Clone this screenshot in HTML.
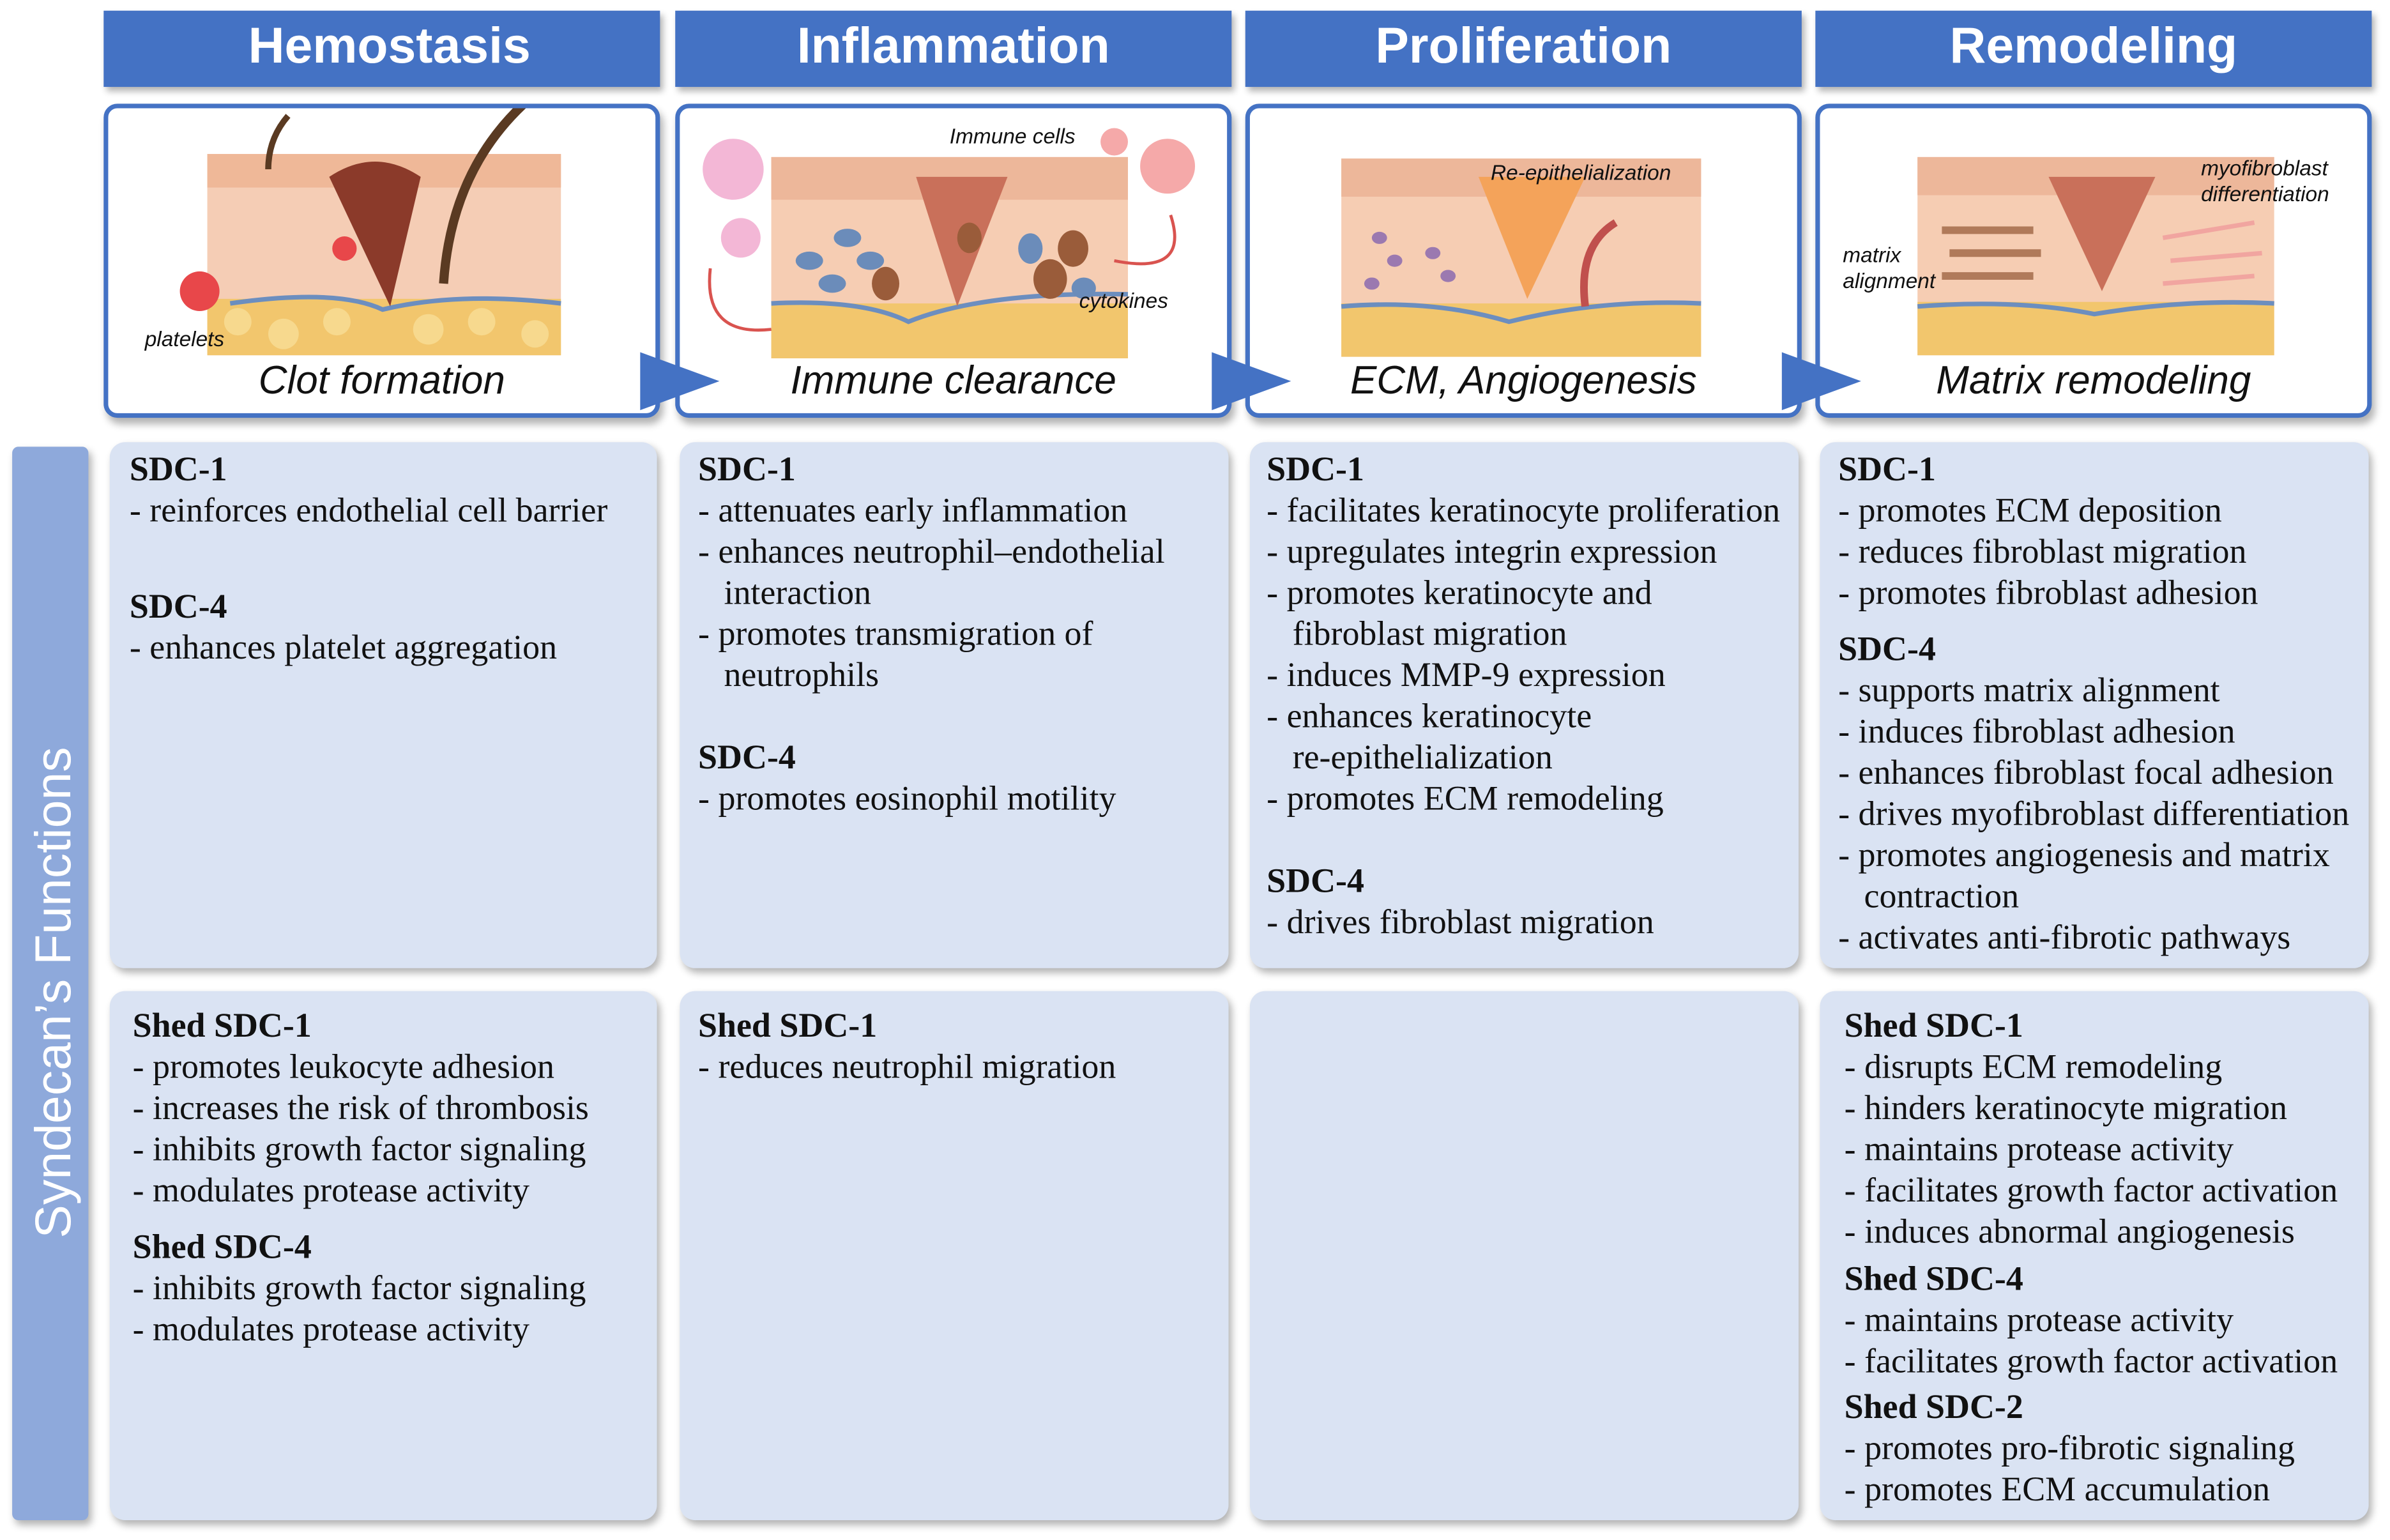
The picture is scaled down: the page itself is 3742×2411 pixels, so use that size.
<!DOCTYPE html>
<html><head><meta charset="utf-8"><style>
html,body{margin:0;padding:0;background:#fff;width:3742px;height:2411px;overflow:hidden}
#s{position:absolute;left:0;top:0;width:1568px;height:1010px;transform:scale(2.3865,2.3871);transform-origin:0 0;font-family:"Liberation Serif",serif}
.h{position:absolute;top:7px;height:50px;background:#4472C4;color:#fff;font:bold 33px "Liberation Sans",sans-serif;text-align:center;line-height:46px;box-shadow:2px 3px 4px rgba(0,0,0,.3)}
.p{position:absolute;top:68px;height:200px;border:3px solid #4472C4;border-radius:9px;background:#fff;box-shadow:2px 4px 5px rgba(0,0,0,.3);overflow:hidden}
.cap{position:absolute;left:0;right:0;top:163px;text-align:center;font:italic 26px "Liberation Sans",sans-serif;color:#111}
.c{position:absolute;background:#DAE3F3;border-radius:10px;box-shadow:2px 3px 5px rgba(0,0,0,.3)}
.t{position:absolute;font-size:22.6px;line-height:27px;color:#111;white-space:pre}
.t b{font-weight:bold}
.arr{position:absolute;width:0;height:0;border-top:19px solid transparent;border-bottom:19px solid transparent;border-left:52px solid #4472C4}
.sm{position:absolute;font:italic 14px "Liberation Sans",sans-serif;color:#111}
</style></head><body><div id="s">
<div class="h" style="left:68px;width:365px;padding-left:10px;box-sizing:border-box">Hemostasis</div>
<div class="h" style="left:443px;width:365px">Inflammation</div>
<div class="h" style="left:817px;width:365px">Proliferation</div>
<div class="h" style="left:1191px;width:365px">Remodeling</div>

<div class="p" style="left:68px;width:359px">
<svg width="359" height="200" style="position:absolute;left:0;top:0">
<rect x="65" y="30" width="232" height="132" fill="#F5CDB5"/>
<rect x="65" y="30" width="232" height="22" fill="#EFB898"/>
<rect x="65" y="125" width="232" height="37" fill="#F2C66D"/>
<g fill="#F7D98E"><circle cx="85" cy="140" r="9"/><circle cx="115" cy="148" r="10"/><circle cx="150" cy="140" r="9"/><circle cx="210" cy="145" r="10"/><circle cx="245" cy="140" r="9"/><circle cx="280" cy="148" r="9"/></g>
<path d="M80 128 Q150 118 180 132 Q230 120 297 128" stroke="#6C8EBF" stroke-width="3" fill="none"/>
<path d="M145 45 Q175 25 205 45 L185 130 Z" fill="#8B3A2A"/>
<path d="M220 115 Q225 40 275 -5" stroke="#5A3A22" stroke-width="6" fill="none"/>
<path d="M105 40 Q105 20 118 5" stroke="#5A3A22" stroke-width="4" fill="none"/>
<circle cx="60" cy="120" r="13" fill="#E8474A"/><circle cx="155" cy="92" r="8" fill="#E8474A"/>
</svg>
<div class="sm" style="left:24px;top:143px">platelets</div>
<div class="cap">Clot formation</div></div>

<div class="p" style="left:443px;width:359px">
<svg width="359" height="200" style="position:absolute;left:0;top:0">
<rect x="60" y="32" width="234" height="132" fill="#F6CDB3"/>
<rect x="60" y="32" width="234" height="28" fill="#EDB79A"/>
<rect x="60" y="128" width="234" height="36" fill="#F2C66D"/>
<path d="M60 128 Q120 125 150 140 Q200 120 294 122" stroke="#6C8EBF" stroke-width="3" fill="none"/>
<path d="M155 45 L215 45 L182 130 Z" fill="#C9705A"/>
<g fill="#6B8CBA"><ellipse cx="85" cy="100" rx="9" ry="6"/><ellipse cx="110" cy="85" rx="9" ry="6"/><ellipse cx="125" cy="100" rx="9" ry="6"/><ellipse cx="100" cy="115" rx="9" ry="6"/><ellipse cx="230" cy="92" rx="8" ry="10"/><ellipse cx="265" cy="118" rx="8" ry="7"/></g>
<g fill="#9A5C3A"><ellipse cx="135" cy="115" rx="9" ry="11"/><ellipse cx="243" cy="112" rx="11" ry="13"/><ellipse cx="258" cy="92" rx="10" ry="12"/><ellipse cx="190" cy="85" rx="8" ry="10"/></g>
<circle cx="35" cy="40" r="20" fill="#F3B7D6"/><circle cx="40" cy="85" r="13" fill="#F3B7D6"/>
<circle cx="320" cy="38" r="18" fill="#F5A9A9"/><circle cx="285" cy="22" r="9" fill="#F5A9A9"/>
<path d="M20 105 Q15 150 60 145" stroke="#D9534F" stroke-width="2" fill="none"/>
<path d="M322 70 Q335 110 285 100" stroke="#D9534F" stroke-width="2" fill="none"/>
</svg>
<div class="sm" style="left:177px;top:10px">Immune cells</div>
<div class="sm" style="left:262px;top:118px">cytokines</div>
<div class="cap">Immune clearance</div></div>

<div class="p" style="left:817px;width:359px">
<svg width="359" height="200" style="position:absolute;left:0;top:0">
<rect x="60" y="33" width="236" height="130" fill="#F6CDB3"/>
<rect x="60" y="33" width="236" height="25" fill="#EDB79A"/>
<rect x="60" y="128" width="236" height="35" fill="#F2C66D"/>
<path d="M60 130 Q120 125 170 140 Q230 125 296 128" stroke="#6C8EBF" stroke-width="3" fill="none"/>
<path d="M150 45 L220 45 L182 125 Z" fill="#F4A35A"/>
<g fill="#9B79B0"><ellipse cx="85" cy="85" rx="5" ry="4"/><ellipse cx="95" cy="100" rx="5" ry="4"/><ellipse cx="80" cy="115" rx="5" ry="4"/><ellipse cx="120" cy="95" rx="5" ry="4"/><ellipse cx="130" cy="110" rx="5" ry="4"/></g>
<path d="M220 130 Q215 90 240 75" stroke="#C0504D" stroke-width="5" fill="none"/>
</svg>
<div class="sm" style="left:158px;top:34px">Re-epithelialization</div>
<div class="cap">ECM, Angiogenesis</div></div>

<div class="p" style="left:1191px;width:359px">
<svg width="359" height="200" style="position:absolute;left:0;top:0">
<rect x="64" y="32" width="234" height="130" fill="#F6CDB3"/>
<rect x="64" y="32" width="234" height="25" fill="#EDB79A"/>
<rect x="64" y="127" width="234" height="35" fill="#F2C66D"/>
<path d="M64 130 Q130 125 180 135 Q240 125 298 128" stroke="#6C8EBF" stroke-width="3" fill="none"/>
<path d="M150 45 L220 45 L185 120 Z" fill="#C9705A"/>
<g stroke="#B07A5A" stroke-width="5"><line x1="80" y1="80" x2="140" y2="80"/><line x1="85" y1="95" x2="145" y2="95"/><line x1="80" y1="110" x2="140" y2="110"/></g>
<g stroke="#F1A5A0" stroke-width="3"><line x1="225" y1="85" x2="285" y2="75"/><line x1="230" y1="100" x2="290" y2="95"/><line x1="225" y1="115" x2="285" y2="110"/></g>
</svg>
<div class="sm" style="left:15px;top:88px;line-height:17px">matrix<br>alignment</div>
<div class="sm" style="left:250px;top:31px;line-height:17px">myofibroblast<br>differentiation</div>
<div class="cap">Matrix remodeling</div></div>

<div class="arr" style="left:420px;top:231px"></div>
<div class="arr" style="left:795px;top:231px"></div>
<div class="arr" style="left:1169px;top:231px"></div>

<div style="position:absolute;left:8px;top:293px;width:50px;height:704px;background:#8EA9DB;border-radius:4px;box-shadow:2px 3px 5px rgba(0,0,0,.3)">
<div style="position:absolute;left:27px;top:358px;transform:translate(-50%,-50%) rotate(-90deg);white-space:nowrap;color:#fff;font:33px 'Liberation Sans',sans-serif">Syndecan’s Functions</div></div>

<div class="c" style="left:72px;top:290px;width:359px;height:345px"></div>
<div class="c" style="left:446px;top:290px;width:360px;height:345px"></div>
<div class="c" style="left:820px;top:290px;width:360px;height:345px"></div>
<div class="c" style="left:1194px;top:290px;width:360px;height:345px"></div>
<div class="c" style="left:72px;top:650px;width:359px;height:347px"></div>
<div class="c" style="left:446px;top:650px;width:360px;height:347px"></div>
<div class="c" style="left:820px;top:650px;width:360px;height:347px"></div>
<div class="c" style="left:1194px;top:650px;width:360px;height:347px"></div>

<div class="t" style="left:85px;top:294px"><b>SDC-1</b>
- reinforces endothelial cell barrier</div>
<div class="t" style="left:85px;top:384px"><b>SDC-4</b>
- enhances platelet aggregation</div>

<div class="t" style="left:458px;top:294px"><b>SDC-1</b>
- attenuates early inflammation
- enhances neutrophil–endothelial
   interaction
- promotes transmigration of
   neutrophils

<b>SDC-4</b>
- promotes eosinophil motility</div>

<div class="t" style="left:831px;top:294px"><b>SDC-1</b>
- facilitates keratinocyte proliferation
- upregulates integrin expression
- promotes keratinocyte and
   fibroblast migration
- induces MMP-9 expression
- enhances keratinocyte
   re-epithelialization
- promotes ECM remodeling

<b>SDC-4</b>
- drives fibroblast migration</div>

<div class="t" style="left:1206px;top:294px"><b>SDC-1</b>
- promotes ECM deposition
- reduces fibroblast migration
- promotes fibroblast adhesion</div>
<div class="t" style="left:1206px;top:412px"><b>SDC-4</b>
- supports matrix alignment
- induces fibroblast adhesion
- enhances fibroblast focal adhesion
- drives myofibroblast differentiation
- promotes angiogenesis and matrix
   contraction
- activates anti-fibrotic pathways</div>

<div class="t" style="left:87px;top:659px"><b>Shed SDC-1</b>
- promotes leukocyte adhesion
- increases the risk of thrombosis
- inhibits growth factor signaling
- modulates protease activity</div>
<div class="t" style="left:87px;top:804px"><b>Shed SDC-4</b>
- inhibits growth factor signaling
- modulates protease activity</div>

<div class="t" style="left:458px;top:659px"><b>Shed SDC-1</b>
- reduces neutrophil migration</div>

<div class="t" style="left:1210px;top:659px"><b>Shed SDC-1</b>
- disrupts ECM remodeling
- hinders keratinocyte migration
- maintains protease activity
- facilitates growth factor activation
- induces abnormal angiogenesis</div>
<div class="t" style="left:1210px;top:825px"><b>Shed SDC-4</b>
- maintains protease activity
- facilitates growth factor activation</div>
<div class="t" style="left:1210px;top:909px"><b>Shed SDC-2</b>
- promotes pro-fibrotic signaling
- promotes ECM accumulation</div>
</div></body></html>
